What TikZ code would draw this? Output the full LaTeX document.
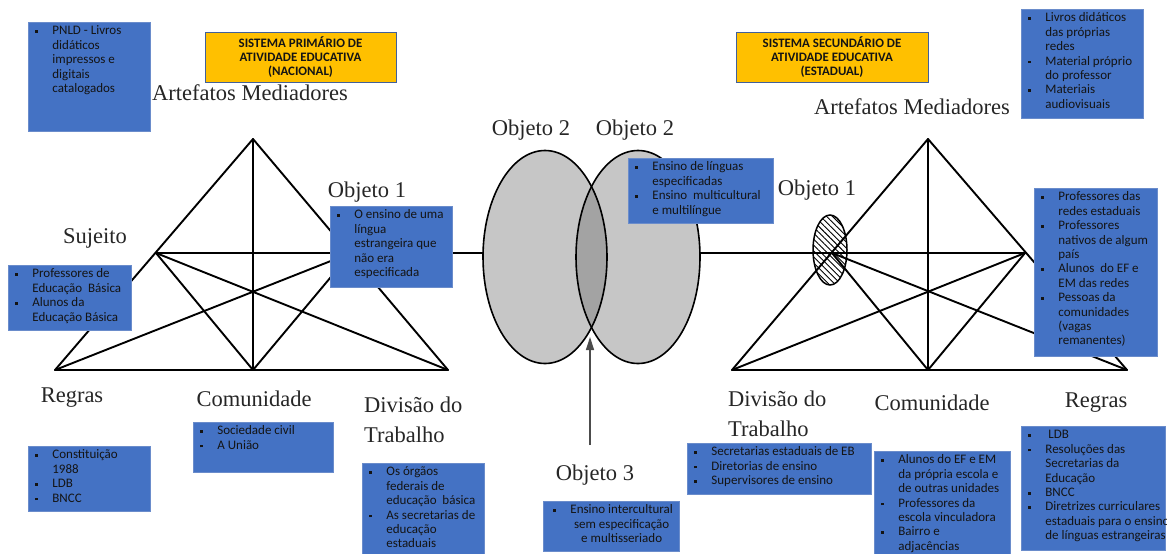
\documentclass[tikz,border=0pt]{standalone}
\usepackage{fontspec}
\newfontfamily\boxfont{Carlito}
\newfontfamily\labfont{Liberation Serif}
\usetikzlibrary{shapes.geometric,patterns.meta,arrows.meta}
\definecolor{boxblue}{HTML}{4472C4}
\definecolor{boxedge}{HTML}{6A8CCB}
\definecolor{gold}{HTML}{FFC000}
\definecolor{goldedge}{HTML}{41609A}
\definecolor{vennlight}{HTML}{C6C6C6}
\definecolor{venndark}{HTML}{A3A3A3}
\newcommand{\bx}{\makebox[17pt][l]{\rule[2pt]{2.6pt}{2.6pt}}}
\newcommand{\bxt}[3]{\parbox[t][#2][t]{#1}{\begin{tabular}[t]{@{}l@{}l@{}}#3\end{tabular}}}
\tikzset{
  bluebox/.style={draw=boxedge, line width=0.8pt, fill=boxblue, anchor=north west,
    inner xsep=7pt, inner ysep=2.5pt, text=black!92,
    font=\boxfont\fontsize{13}{14.4}\selectfont},
  goldbox/.style={draw=goldedge, line width=0.9pt, fill=gold, align=center, inner sep=0pt,
    text=black!92, font=\boxfont\bfseries\fontsize{12.9}{14.2}\selectfont},
  lab/.style={font=\labfont\fontsize{22.5}{30}\selectfont, text=black!85, inner sep=0pt},
  tri/.style={line width=1.9pt, line join=round, line cap=round},
  vennshape/.style={ellipse, inner sep=0pt, minimum width=124pt, minimum height=213pt}
}
\begin{document}
\begin{tikzpicture}[x=1pt,y=-1pt]
\useasboundingbox (0,0) rectangle (1167,554);

% ---- left triangle
\coordinate (LA) at (253,139);
\coordinate (LBL) at (55,370);
\coordinate (LBR) at (448,370);
\coordinate (LBM) at (253,370);
\coordinate (LS) at (156,253);
\coordinate (LO) at (351,253);
% ---- right triangle
\coordinate (RA) at (928,139);
\coordinate (RBL) at (732,370);
\coordinate (RBR) at (1127,370);
\coordinate (RBM) at (928,370);
\coordinate (RO) at (832,253);
\coordinate (RS) at (1025,253);

% Venn shapes
\node[vennshape, fill=vennlight] (V1) at (545,257) {};
\node[vennshape, fill=vennlight] (V2) at (638,257) {};

\draw[tri] (LA) -- (LBL) -- (LBR) -- cycle;
\draw[tri] (LA) -- (LBM);
\draw[tri] (LS) -- (LBM) -- (LO);
\draw[tri] (LS) -- (LBR);
\draw[tri] (LO) -- (LBL);
\draw[tri] (LS) -- (V1.west |- LS);

\draw[tri] (RA) -- (RBL) -- (RBR) -- cycle;
\draw[tri] (RA) -- (RBM);
\draw[tri] (RS) -- (RBM) -- (RO);
\draw[tri] (RS) -- (RBL);
\draw[tri] (RO) -- (RBR);
\draw[tri] (V2.east |- RS) -- (RS);

\begin{scope}
  \clip (V1.center) ellipse [x radius=62pt, y radius=106.5pt];
  \fill[venndark] (V2.center) ellipse [x radius=62pt, y radius=106.5pt];
\end{scope}
\draw[line width=1.6pt] (V1.center) ellipse [x radius=62pt, y radius=106.5pt];
\draw[line width=1.6pt] (V2.center) ellipse [x radius=62pt, y radius=106.5pt];

% hatched ellipse
\node[ellipse, draw, line width=1.5pt, inner sep=0pt, minimum width=34pt, minimum height=70pt,
  pattern={Lines[angle=-45, distance=4.2pt, line width=0.9pt]}] (H) at (830,250) {};

% arrow to Venn
\coordinate (afoot) at (590,445);
\coordinate (atip) at (590,337);
\draw[line width=1.3pt, draw=black!70, -{Triangle[length=13pt,width=8pt]}] (afoot) -- (atip);

% ---- labels
\node[lab] (artL) at (250,93) {Artefatos Mediadores};
\node[lab] (sujL) at (95,238) {Sujeito};
\node[lab] (objL) at (367,192) {Objeto 1};
\node[lab] (regL) at (72,398) {Regras};
\node[lab] (comL) at (254,399) {Comunidade};
\node[lab, align=left, anchor=north west] (divL) at (364,397) {Divisão do\\Trabalho};
\node[lab] (obj2a) at (531,130) {Objeto 2};
\node[lab] (obj2b) at (635,130) {Objeto 2};
\node[lab] (obj3) at (595,475) {Objeto 3};
\node[lab] (objR) at (817,190) {Objeto 1};
\node[lab] (artR) at (912,107) {Artefatos Mediadores};
\node[lab, align=left, anchor=north west] (divR) at (728,391) {Divisão do\\Trabalho};
\node[lab] (comR) at (932,403) {Comunidade};
\node[lab] (regR) at (1096,403) {Regras};

% ---- gold boxes
\node[goldbox, minimum width=191pt, minimum height=50pt] (sysL) at (300.5,57)
  {SISTEMA PRIMÁRIO DE\\ATIVIDADE EDUCATIVA\\(NACIONAL)};
\node[goldbox, minimum width=192pt, minimum height=50pt] (sysR) at (832,57)
  {SISTEMA SECUNDÁRIO DE\\ATIVIDADE EDUCATIVA\\(ESTADUAL)};

% ---- blue boxes
\node[bluebox] (pnld) at (28,22) {\bxt{108pt}{104pt}{%
  \bx & PNLD - Livros\\ & didáticos\\ & impressos e\\ & digitais\\ & catalogados}};
\node[bluebox] (sujBox) at (8,265) {\bxt{109pt}{60pt}{%
  \bx & Professores de\\ & Educação~ Básica\\ \bx & Alunos da\\ & Educação Básica}};
\node[bluebox] (objBox) at (330,206) {\bxt{108pt}{76pt}{%
  \bx & O ensino de uma\\ & língua\\ & estrangeira que\\ & não era\\ & especificada}};
\node[bluebox] (regBox) at (28,446) {\bxt{108pt}{60pt}{%
  \bx & Constituição\\ & 1988\\ \bx & LDB\\ \bx & BNCC}};
\node[bluebox] (comBox) at (193,422) {\bxt{126pt}{45pt}{%
  \bx & Sociedade civil\\ \bx & A União}};
\node[bluebox] (divBox) at (362,463) {\bxt{108pt}{95pt}{%
  \bx & Os órgãos\\ & federais de\\ & educação~ básica\\ \bx & As secretarias de\\ & educação\\ & estaduais}};
\node[bluebox] (vennBox) at (628,158) {\bxt{131pt}{60pt}{%
  \bx & Ensino de línguas\\ & especificadas\\ \bx & Ensino~ multicultural\\ & e multilíngue}};
\node[bluebox] (obj3Box) at (543,501) {\parbox[t][45pt][t]{122pt}{\begin{tabular}[t]{@{}l@{}c@{}}%
  \hspace*{3pt}\bx & Ensino intercultural\\ & sem especificação\\ & e multisseriado\end{tabular}}};
\node[bluebox] (divRBox) at (687,443) {\bxt{170pt}{46pt}{%
  \bx & Secretarias estaduais de EB\\ \bx & Diretorias de ensino\\ \bx & Supervisores de ensino}};
\node[bluebox] (comRBox) at (874,451) {\bxt{122pt}{105pt}{%
  \bx & Alunos do EF e EM\\ & da própria escola e\\ & de outras unidades\\ \bx & Professores da\\ & escola vinculadora\\ \bx & Bairro e\\ & adjacências}};
\node[bluebox] (regRBox) at (1021,426) {\bxt{130pt}{119pt}{%
  \bx & ~LDB\\ \bx & Resoluções das\\ & Secretarias da\\ & Educação\\ \bx & BNCC\\ \bx & Diretrizes curriculares\\ & estaduais para o ensino\\ & de línguas estrangeiras}};
\node[bluebox] (artRBox) at (1021,9) {\bxt{108pt}{104pt}{%
  \bx & Livros didáticos\\ & das próprias\\ & redes\\ \bx & Material próprio\\ & do professor\\ \bx & Materiais\\ & audiovisuais}};
\node[bluebox] (sujRBox) at (1034,188) {\bxt{109pt}{163pt}{%
  \bx & Professores das\\ & redes estaduais\\ \bx & Professores\\ & nativos de algum\\ & país\\ \bx & Alunos~ do EF e\\ & EM das redes\\ \bx & Pessoas da\\ & comunidades\\ & (vagas\\ & remanentes)}};
\end{tikzpicture}
\end{document}
